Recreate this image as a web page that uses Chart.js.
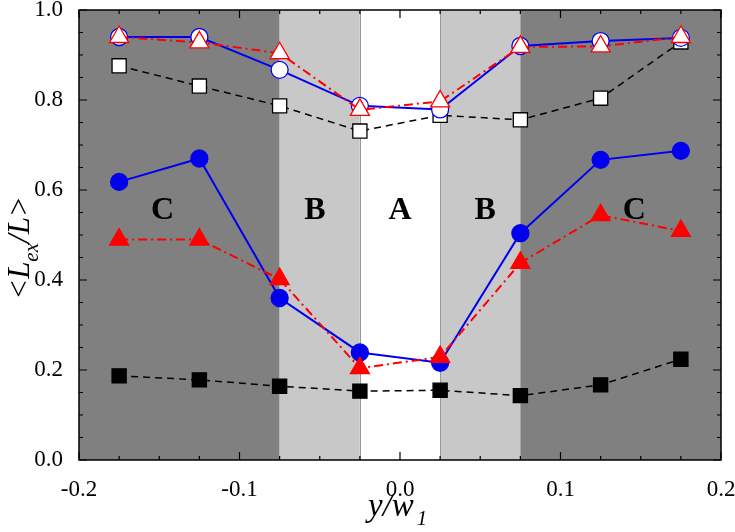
<!DOCTYPE html>
<html>
<head>
<meta charset="utf-8">
<script src="https://cdn.jsdelivr.net/npm/chart.js@4.4.1/dist/chart.umd.min.js"></script>
<style>
  html, body { margin: 0; padding: 0; background: #fff; }
</style>
</head>
<body>
<canvas id="c" width="735" height="532"></canvas>
<script>
// positions en x (y/w1)
const xVals = [-0.175, -0.125, -0.075, -0.025, 0.025, 0.075, 0.125, 0.175];

// séries
const openCircle   = [0.940, 0.940, 0.867, 0.787, 0.779, 0.920, 0.931, 0.938];
const openTriangle = [0.940, 0.928, 0.904, 0.778, 0.797, 0.918, 0.919, 0.940];
const openSquare   = [0.876, 0.831, 0.787, 0.731, 0.766, 0.756, 0.804, 0.929];
const fullCircle   = [0.618, 0.670, 0.360, 0.239, 0.216, 0.504, 0.667, 0.687];
const fullTriangle = [0.490, 0.490, 0.402, 0.204, 0.229, 0.438, 0.544, 0.509];
const fullSquare   = [0.187, 0.178, 0.164, 0.153, 0.155, 0.143, 0.167, 0.224];

// zones A / B / C
const regionEdges  = [-0.2, -0.075, -0.025, 0.025, 0.075, 0.2];
const regionColors = ['#808080', '#c8c8c8', '#ffffff', '#c8c8c8', '#808080'];
const regionLabels = ['C', 'B', 'A', 'B', 'C'];
const regionLabelX = [-0.148, -0.053, 0.0, 0.053, 0.146];
const regionLabelY = 0.553;

const serif = "'Liberation Serif', 'Times New Roman', serif";

function pts(ys) {
  return xVals.map((x, i) => ({ x: x, y: ys[i] }));
}

function serie(ys, color, fill, style, radius, dash, width, order) {
  return {
    data: pts(ys),
    borderColor: color,
    borderWidth: width,
    borderDash: dash,
    pointStyle: style,
    pointRadius: radius,
    pointBackgroundColor: fill,
    pointBorderColor: color,
    pointBorderWidth: 1.3,
    order: order
  };
}

// fond des zones + lettres
const zones = {
  id: 'zones',
  beforeDatasetsDraw(chart) {
    const ctx = chart.ctx, xs = chart.scales.x, ys = chart.scales.y;
    const top = chart.chartArea.top, bottom = chart.chartArea.bottom;
    ctx.save();
    for (let i = 0; i < regionColors.length; i++) {
      const a = xs.getPixelForValue(regionEdges[i]);
      const b = xs.getPixelForValue(regionEdges[i + 1]);
      ctx.fillStyle = regionColors[i];
      ctx.fillRect(a, top, b - a, bottom - top);
    }
    ctx.strokeStyle = '#999';
    ctx.lineWidth = 1;
    [regionEdges[2], regionEdges[3]].forEach(v => {
      const p = Math.round(xs.getPixelForValue(v)) + 0.5;
      ctx.beginPath(); ctx.moveTo(p, top); ctx.lineTo(p, bottom); ctx.stroke();
    });
    ctx.fillStyle = '#000';
    ctx.font = 'bold 32px ' + serif;
    ctx.textAlign = 'center';
    ctx.textBaseline = 'middle';
    regionLabels.forEach((t, i) => {
      ctx.fillText(t, xs.getPixelForValue(regionLabelX[i]), ys.getPixelForValue(regionLabelY));
    });
    ctx.restore();
  }
};

// cadre, graduations vers l'intérieur et titres des axes
const cadre = {
  id: 'cadre',
  afterDraw(chart) {
    const ctx = chart.ctx, xs = chart.scales.x, ys = chart.scales.y;
    const { left, right, top, bottom } = chart.chartArea;
    ctx.save();
    ctx.strokeStyle = '#000';
    ctx.lineWidth = 1.5;
    ctx.strokeRect(left, top, right - left, bottom - top);
    ctx.lineWidth = 1.2;
    for (let k = 0; k <= 16; k++) {
      const v = -0.2 + k * 0.025;
      const p = xs.getPixelForValue(v);
      const len = (k % 4 === 0) ? 8 : 4;
      ctx.beginPath();
      ctx.moveTo(p, bottom); ctx.lineTo(p, bottom - len);
      ctx.moveTo(p, top); ctx.lineTo(p, top + len);
      ctx.stroke();
    }
    for (let k = 0; k <= 20; k++) {
      const v = k * 0.05;
      const p = ys.getPixelForValue(v);
      const len = (k % 4 === 0) ? 8 : 4;
      ctx.beginPath();
      ctx.moveTo(left, p); ctx.lineTo(left + len, p);
      ctx.moveTo(right, p); ctx.lineTo(right - len, p);
      ctx.stroke();
    }

    ctx.fillStyle = '#000';
    ctx.textBaseline = 'alphabetic';
    // titre x : y/w1
    let x0 = 368, y0 = 516;
    ctx.font = 'italic 33px ' + serif;
    ctx.textAlign = 'left';
    ctx.fillText('y/w', x0, y0);
    let w = ctx.measureText('y/w').width;
    ctx.font = 'italic 21px ' + serif;
    ctx.fillText('1', x0 + w + 3, y0 + 9);

    // titre y : <Lex/L>
    ctx.translate(29, 248);
    ctx.rotate(-Math.PI / 2);
    const parts = [['<L', 31, 0], ['ex', 21, 9], ['/L>', 31, 0]];
    let total = 0;
    parts.forEach(p => { ctx.font = 'italic ' + p[1] + 'px ' + serif; total += ctx.measureText(p[0]).width; });
    let cx = -total / 2;
    parts.forEach(p => {
      ctx.font = 'italic ' + p[1] + 'px ' + serif;
      ctx.fillText(p[0], cx, p[2]);
      cx += ctx.measureText(p[0]).width;
    });
    ctx.restore();
  }
};

new Chart(document.getElementById('c'), {
  type: 'line',
  data: {
    datasets: [
      serie(fullSquare,   '#000000', '#000000', 'rect',     10,  [7, 5],       1.5, 6),
      serie(openSquare,   '#000000', '#ffffff', 'rect',     10,  [7, 5],       1.5, 5),
      serie(fullCircle,   '#0000ee', '#0000ee', 'circle',   8.5, [],           2,   4),
      serie(openCircle,   '#0000ee', '#ffffff', 'circle',   8.5, [],           2,   3),
      serie(fullTriangle, '#ff0000', '#ff0000', 'triangle', 11,  [9, 4, 2, 4], 2,   2),
      serie(openTriangle, '#ff0000', '#ffffff', 'triangle', 11,  [9, 4, 2, 4], 2,   1)
    ]
  },
  options: {
    responsive: false,
    devicePixelRatio: 1,
    animation: false,
    layout: { autoPadding: false, padding: { top: 10, right: 14, left: 0, bottom: 0 } },
    plugins: { legend: { display: false }, tooltip: { enabled: false } },
    scales: {
      x: {
        type: 'linear',
        min: -0.2, max: 0.2,
        grid: { display: false },
        border: { display: false },
        ticks: {
          stepSize: 0.1,
          padding: 8,
          color: '#000',
          font: { family: serif, size: 23 },
          maxRotation: 0,
          callback: v => v.toFixed(1)
        },
        afterFit: s => { s.height = 72; s.paddingLeft = 0; s.paddingRight = 0; }
      },
      y: {
        min: 0, max: 1,
        grid: { display: false },
        border: { display: false },
        ticks: {
          stepSize: 0.2,
          padding: 8,
          color: '#000',
          font: { family: serif, size: 23 },
          callback: v => v.toFixed(1)
        },
        afterFit: s => { s.width = 79; s.paddingTop = 0; s.paddingBottom = 0; }
      }
    }
  },
  plugins: [zones, cadre]
});
</script>
</body>
</html>
